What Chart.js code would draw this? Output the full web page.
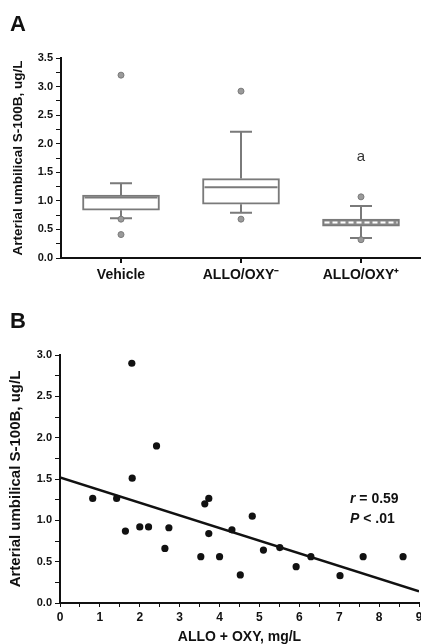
<!DOCTYPE html>
<html>
<head>
<meta charset="utf-8">
<script src="https://cdn.jsdelivr.net/npm/chart.js@4.4.1/dist/chart.umd.min.js"></script>
<style>
  body { margin: 0; background: #fff; width: 421px; height: 644px; overflow: hidden; position: relative;
         font-family: "Liberation Sans", Arial, sans-serif; }
  .letter { position: absolute; left: 10px; font-weight: bold; font-size: 22px; line-height: 22px; color: #111; }
  #wrapA { position: absolute; left: 0; top: 0; width: 421px; height: 310px; overflow: hidden; }
  #wrapB { position: absolute; left: 0; top: 310px; width: 421px; height: 334px; overflow: hidden; }
</style>
</head>
<body>
<div id="wrapA"><canvas id="boxChart" width="426" height="310"></canvas></div>
<div id="wrapB"><canvas id="scatterChart" width="430" height="334"></canvas></div>
<div class="letter" style="top:13px">A</div>
<div class="letter" style="top:310px">B</div>
<script>
// Panel A: box plots per group
const categories = ['Vehicle', 'ALLO/OXY\u207B', 'ALLO/OXY\u207A'];
const q1 = [0.835, 0.94, 0.555];
const median = [1.06, 1.24, 0.62];
const q3 = [1.1, 1.39, 0.68];
const whiskerLow = [0.695, 0.79, 0.35];
const whiskerHigh = [1.31, 2.21, 0.91];
const outlierGroup = [0, 0, 0, 1, 1, 2, 2];
const outlierValue = [3.2, 0.41, 0.68, 2.92, 0.68, 1.07, 0.32];
const markGroup = 2;
const markValue = 1.77;

// Panel B: scatter + regression line
const alloOxy = [0.82, 1.42, 1.80, 1.81, 1.64, 2.0, 2.22, 2.42, 2.63, 2.73, 3.53, 3.63, 3.73, 3.73, 4.0,
                 4.31, 4.52, 4.82, 5.10, 5.51, 5.92, 6.29, 7.02, 7.60, 8.60];
const s100b = [1.265, 1.265, 2.90, 1.51, 0.87, 0.92, 0.92, 1.90, 0.66, 0.91, 0.56, 1.20, 1.265, 0.84, 0.56,
               0.885, 0.34, 1.05, 0.64, 0.67, 0.44, 0.56, 0.33, 0.56, 0.56];
const fitX = [0, 9];
const fitY = [1.52, 0.14];
const statsX = 7.27;
const statsY = [1.26, 1.02];

const boxLine = '#7a7a7a';
const axisColor = '#111';
const family = '"Liberation Sans", Arial, sans-serif';
const yTitle = 'Arterial umbilical S-100B, ug/L';

function halfLabel(v) {
    return Math.abs(v * 2 - Math.round(v * 2)) < 1e-6 ? v.toFixed(1) : '';
}

const boxParts = {
    id: 'boxParts',
    beforeDatasetsDraw(chart) {
        const { ctx, scales: { x, y } } = chart;
        ctx.save();
        ctx.strokeStyle = boxLine;
        ctx.lineWidth = 2;
        categories.forEach((c, i) => {
            const cx = x.getPixelForValue(i);
            ctx.beginPath();
            ctx.moveTo(cx, y.getPixelForValue(q3[i]));
            ctx.lineTo(cx, y.getPixelForValue(whiskerHigh[i]));
            ctx.moveTo(cx, y.getPixelForValue(q1[i]));
            ctx.lineTo(cx, y.getPixelForValue(whiskerLow[i]));
            [whiskerHigh[i], whiskerLow[i]].forEach(v => {
                const py = y.getPixelForValue(v);
                ctx.moveTo(cx - 11, py);
                ctx.lineTo(cx + 11, py);
            });
            ctx.stroke();
        });
        ctx.restore();
    },
    afterDatasetsDraw(chart) {
        const { ctx, scales: { x, y } } = chart;
        const meta = chart.getDatasetMeta(0);
        ctx.save();
        categories.forEach((c, i) => {
            const bar = meta.data[i].getProps(['x', 'width'], true);
            const py = y.getPixelForValue(median[i]);
            ctx.beginPath();
            ctx.moveTo(bar.x - bar.width / 2 + 2, py);
            ctx.lineTo(bar.x + bar.width / 2 - 2, py);
            if (i === 2) {
                ctx.strokeStyle = '#fff';
                ctx.setLineDash([5, 3]);
            } else {
                ctx.strokeStyle = boxLine;
                ctx.setLineDash([]);
            }
            ctx.lineWidth = 2;
            ctx.stroke();
        });
        ctx.setLineDash([]);
        ctx.fillStyle = '#333';
        ctx.font = '15px ' + family;
        ctx.textAlign = 'center';
        ctx.textBaseline = 'middle';
        ctx.fillText('a', x.getPixelForValue(markGroup), y.getPixelForValue(markValue));
        ctx.restore();
    }
};

new Chart(document.getElementById('boxChart'), {
    type: 'bar',
    data: {
        labels: categories,
        datasets: [{
            data: categories.map((c, i) => [q1[i], q3[i]]),
            backgroundColor: ['#fff', '#fff', '#8c8c8c'],
            borderColor: boxLine,
            borderWidth: 2,
            borderSkipped: false,
            barThickness: 77,
            order: 2
        }, {
            type: 'line',
            data: outlierValue.map((v, i) => ({ x: categories[outlierGroup[i]], y: v })),
            showLine: false,
            pointRadius: 3,
            pointBackgroundColor: '#9a9a9a',
            pointBorderColor: '#7a7a7a',
            pointBorderWidth: 1,
            order: 1
        }]
    },
    options: {
        responsive: false,
        animation: false,
        layout: { padding: { left: 7, top: 58, right: 0, bottom: 0 } },
        plugins: { legend: { display: false }, tooltip: { enabled: false } },
        scales: {
            x: {
                grid: { drawOnChartArea: false, offset: false, tickLength: 5, color: axisColor, lineWidth: 2 },
                border: { color: axisColor, width: 2 },
                ticks: { color: '#111', padding: 4, font: { family: family, size: 14, weight: 'bold' } },
                afterFit(scale) { scale.height = 52; }
            },
            y: {
                min: 0, max: 3.5,
                grid: { drawOnChartArea: false, tickLength: 5, color: axisColor },
                border: { color: axisColor, width: 2 },
                ticks: { stepSize: 0.25, autoSkip: false, padding: 3, color: '#111',
                         font: { family: family, size: 11, weight: 'bold' }, callback: halfLabel },
                title: { display: true, text: yTitle, color: '#111', padding: { top: 3, bottom: 3 },
                         font: { family: family, size: 13.5, weight: 'bold' } },
                afterFit(scale) { scale.width = 54; }
            }
        }
    },
    plugins: [boxParts]
});

const statsText = {
    id: 'statsText',
    afterDatasetsDraw(chart) {
        const { ctx, scales: { x, y } } = chart;
        const px = x.getPixelForValue(statsX);
        ctx.save();
        ctx.fillStyle = '#111';
        ctx.textBaseline = 'middle';
        ctx.textAlign = 'left';
        [['r', ' = 0.59'], ['P', ' < .01']].forEach((parts, i) => {
            const py = y.getPixelForValue(statsY[i]);
            ctx.font = 'italic bold 14px ' + family;
            ctx.fillText(parts[0], px, py);
            const w = ctx.measureText(parts[0]).width;
            ctx.font = 'bold 14px ' + family;
            ctx.fillText(parts[1], px + w, py);
        });
        ctx.restore();
    }
};

new Chart(document.getElementById('scatterChart'), {
    type: 'scatter',
    data: {
        datasets: [{
            data: alloOxy.map((v, i) => ({ x: v, y: s100b[i] })),
            pointRadius: 3.6,
            pointBackgroundColor: '#111',
            pointBorderColor: '#111',
            pointBorderWidth: 0
        }, {
            type: 'line',
            data: fitX.map((v, i) => ({ x: v, y: fitY[i] })),
            borderColor: '#111',
            borderWidth: 2.5,
            pointRadius: 0,
            fill: false
        }]
    },
    options: {
        responsive: false,
        animation: false,
        layout: { padding: { left: 4, top: 45, right: 11, bottom: 0 } },
        plugins: { legend: { display: false }, tooltip: { enabled: false } },
        scales: {
            x: {
                type: 'linear', min: 0, max: 9,
                grid: { drawOnChartArea: false, tickLength: 4, color: axisColor },
                border: { color: axisColor, width: 2 },
                ticks: { stepSize: 0.5, autoSkip: false, maxRotation: 0, padding: 3, color: '#111',
                         font: { family: family, size: 12, weight: 'bold' },
                         callback: v => Number.isInteger(v) ? String(v) : '' },
                title: { display: true, text: 'ALLO + OXY, mg/L', color: '#111', padding: { top: 0, bottom: -2 },
                         font: { family: family, size: 14, weight: 'bold' } },
                afterFit(scale) { scale.height = 41; }
            },
            y: {
                min: 0, max: 3,
                grid: { drawOnChartArea: false, tickLength: 5, color: axisColor },
                border: { color: axisColor, width: 2 },
                ticks: { stepSize: 0.25, autoSkip: false, padding: 3, color: '#111',
                         font: { family: family, size: 11, weight: 'bold' }, callback: halfLabel },
                title: { display: true, text: yTitle, color: '#111', padding: { top: 3, bottom: 3 },
                         font: { family: family, size: 15, weight: 'bold' } },
                afterFit(scale) { scale.width = 56; }
            }
        }
    },
    plugins: [statsText]
});
</script>
</body>
</html>
